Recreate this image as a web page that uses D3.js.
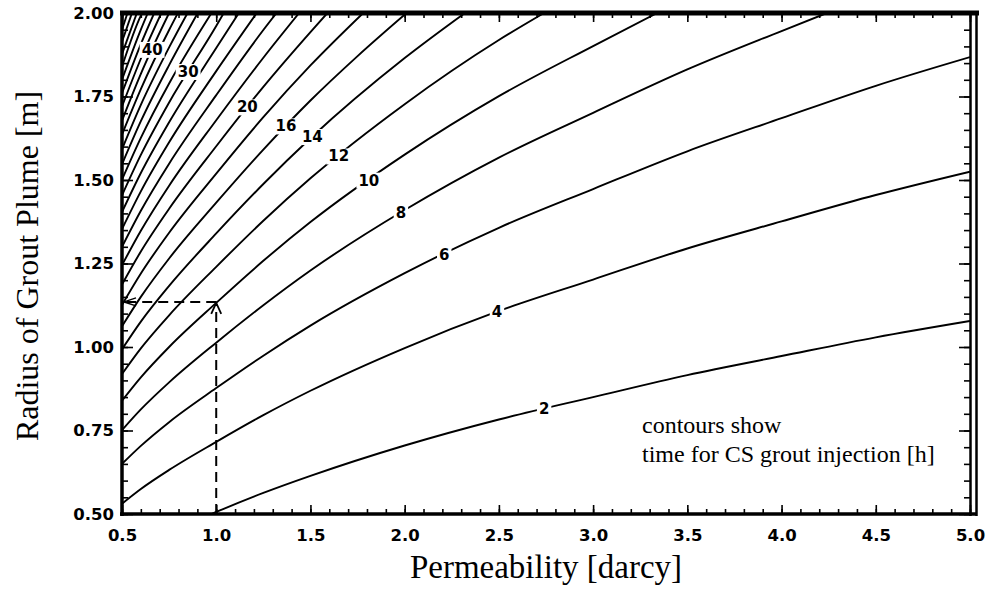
<!DOCTYPE html>
<html><head><meta charset="utf-8">
<script src="https://cdn.jsdelivr.net/npm/d3@7/dist/d3.min.js"></script>
<style>
body{margin:0;background:#fff;}
svg{display:block;}
.tick text{font-family:"DejaVu Sans",Arial,sans-serif;font-weight:bold;font-size:16.5px;fill:#000;}
</style></head>
<body><svg id="chart" width="989" height="592"></svg>
<script>
// ---- data ----
const xTicks = [0.5,1.0,1.5,2.0,2.5,3.0,3.5,4.0,4.5,5.0];
const yTicks = [0.50,0.75,1.00,1.25,1.50,1.75,2.00];
const contourLevels = [2,4,6,8,10,12,14,16,18,20,22,24,26,28,30,32,34,36,38,40,42,44,46,48,50,52,54,56];
// each contour: [permeability (darcy), radius (m)] points
const contourLines = [
 [[0.975,0.5],[1,0.506],[1.25,0.563],[1.5,0.614],[2,0.705],[2.5,0.783],[3,0.850],[3.5,0.916],[4,0.973],[4.5,1.029],[5,1.078]],
 [[0.5,0.531],[0.6,0.575],[0.75,0.632],[1,0.716],[1.25,0.796],[1.5,0.869],[2,0.997],[2.5,1.108],[3,1.202],[3.5,1.295],[4,1.376],[4.5,1.455],[5,1.525]],
 [[0.5,0.65],[0.6,0.704],[0.75,0.775],[1,0.877],[1.25,0.974],[1.5,1.064],[2,1.221],[2.5,1.357],[3,1.473],[3.5,1.586],[4,1.685],[4.5,1.782],[5,1.868]],
 [[0.5,0.751],[0.6,0.813],[0.75,0.894],[1,1.013],[1.25,1.125],[1.5,1.229],[2,1.41],[2.5,1.567],[3,1.701],[3.5,1.831],[4,1.946],[4.24,2.0]],
 [[0.5,0.839],[0.6,0.909],[0.75,1.0],[1,1.132],[1.25,1.258],[1.5,1.374],[2,1.576],[2.5,1.751],[3,1.901],[3.34,2.0]],
 [[0.5,0.919],[0.6,0.996],[0.75,1.095],[1,1.24],[1.25,1.378],[1.5,1.505],[2,1.727],[2.5,1.919],[2.74,2.0]],
 [[0.5,0.993],[0.6,1.076],[0.75,1.183],[1,1.34],[1.25,1.488],[1.5,1.625],[2,1.865],[2.32,2.0]],
 [[0.5,1.062],[0.6,1.15],[0.75,1.265],[1,1.432],[1.25,1.591],[1.5,1.738],[1.75,1.871],[2.01,2.0]],
 [[0.5,1.126],[0.6,1.22],[0.75,1.342],[1,1.519],[1.25,1.688],[1.5,1.843],[1.78,2.0]],
 [[0.5,1.187],[0.6,1.286],[0.75,1.414],[1,1.601],[1.25,1.779],[1.5,1.943],[1.59,2.0]],
 [[0.5,1.245],[0.6,1.348],[0.75,1.483],[1,1.679],[1.25,1.866],[1.44,2.0]],
 [[0.5,1.3],[0.6,1.408],[0.75,1.549],[1,1.754],[1.25,1.949],[1.32,2.0]],
 [[0.5,1.353],[0.6,1.466],[0.75,1.613],[1,1.826],[1.215,2.0]],
 [[0.5,1.404],[0.6,1.521],[0.75,1.673],[1,1.895],[1.12,2.0]],
 [[0.5,1.454],[0.6,1.575],[0.75,1.732],[1,1.961],[1.04,2.0]],
 [[0.5,1.501],[0.6,1.626],[0.75,1.789],[0.975,2.0]],
 [[0.5,1.547],[0.6,1.676],[0.75,1.844],[0.902,2.0]],
 [[0.5,1.592],[0.6,1.725],[0.75,1.897],[0.848,2.0]],
 [[0.5,1.636],[0.6,1.772],[0.75,1.949],[0.797,2.0]],
 [[0.5,1.678],[0.6,1.818],[0.75,2.0]],
 [[0.5,1.72],[0.6,1.863],[0.709,2.0]],
 [[0.5,1.76],[0.6,1.907],[0.671,2.0]],
 [[0.5,1.8],[0.6,1.95],[0.637,2.0]],
 [[0.5,1.839],[0.6,1.992],[0.607,2.0]],
 [[0.5,1.877],[0.579,2.0]],
 [[0.5,1.914],[0.553,2.0]],
 [[0.5,1.95],[0.529,2.0]],
 [[0.5,1.986],[0.507,2.0]]
];
const labelLevels = [2,4,6,8,10,12,14,16,20,30,40];
const labelK = [2.74,2.49,2.21,1.98,1.81,1.65,1.51,1.37,1.165,0.851,0.66];
const guidePoint = [1.0, 1.135];
const noteLines = ["contours show","time for CS grout injection [h]"];

// ---- drawing ----
const svg = d3.select("#chart");
const x = d3.scaleLinear().domain([0.5,5]).range([122,970]);
const y = d3.scaleLinear().domain([0.5,2]).range([514,13]);

svg.append("defs").append("clipPath").attr("id","clip")
  .append("rect").attr("x",122).attr("y",13).attr("width",848).attr("height",501);

const line = d3.line().x(d=>x(d[0])).y(d=>y(d[1])).curve(d3.curveMonotoneX);
const gC = svg.append("g").attr("clip-path","url(#clip)");
gC.selectAll("path.c").data(contourLines).join("path")
  .attr("class","c").attr("d",line)
  .attr("fill","none").attr("stroke","#000").attr("stroke-width",1.9);

// contour labels
function rAt(pts,k){
  for(let i=0;i<pts.length-1;i++){
    if(k>=pts[i][0] && k<=pts[i+1][0]){
      const t=(k-pts[i][0])/(pts[i+1][0]-pts[i][0]);
      return pts[i][1]+t*(pts[i+1][1]-pts[i][1]);
    }
  }
  return pts[pts.length-1][1];
}
const gL = svg.append("g");
labelLevels.forEach((lv,i)=>{
  const pts = contourLines[contourLevels.indexOf(lv)];
  const k = labelK[i], r = rAt(pts,k);
  const g = gL.append("g").attr("transform",`translate(${x(k)},${y(r)})`);
  const rect = g.append("rect").attr("fill","#fff");
  const t = g.append("text").text(lv).attr("text-anchor","middle").attr("dy","0.36em")
    .attr("font-family","DejaVu Sans, Arial, sans-serif").attr("font-weight","bold").attr("font-size",15);
  const bb = t.node().getBBox();
  rect.attr("x",bb.x-2).attr("y",bb.y+1).attr("width",bb.width+4).attr("height",bb.height-2);
});

// dashed guide
const gx = x(guidePoint[0]), gy = y(guidePoint[1]);
svg.append("path").attr("d",`M${gx},${y(0.5)}V${gy+2}M${gx},${gy}H${x(0.5)+3}`)
  .attr("fill","none").attr("stroke","#000").attr("stroke-width",2).attr("stroke-dasharray","10,6");
svg.append("path").attr("d",`M${gx-5},${gy+12}L${gx},${gy+1}L${gx+5},${gy+12}`)
  .attr("fill","none").attr("stroke","#000").attr("stroke-width",1.8);
svg.append("path").attr("d",`M${x(0.5)+14},${gy-4}L${x(0.5)+2},${gy}L${x(0.5)+14},${gy+4}`)
  .attr("fill","none").attr("stroke","#000").attr("stroke-width",1.5);

// axes
const minorX = d3.range(5,51).map(d=>d/10);
const minorY = d3.range(10,41).map(d=>d/20);
function axisG(axis, tr){ return svg.append("g").attr("transform",tr).call(axis); }
axisG(d3.axisBottom(x).tickValues(xTicks).tickFormat(d3.format(".1f")).tickSizeInner(-9).tickSizeOuter(0).tickPadding(15),`translate(0,514)`);
axisG(d3.axisBottom(x).tickValues(minorX).tickFormat("").tickSizeInner(-5).tickSizeOuter(0),`translate(0,514)`);
axisG(d3.axisTop(x).tickValues(xTicks).tickFormat("").tickSizeInner(-9).tickSizeOuter(0),`translate(0,13)`);
axisG(d3.axisTop(x).tickValues(minorX).tickFormat("").tickSizeInner(-5).tickSizeOuter(0),`translate(0,13)`);
axisG(d3.axisLeft(y).tickValues(yTicks).tickFormat(d3.format(".2f")).tickSizeInner(-11).tickSizeOuter(0).tickPadding(8),`translate(122,0)`);
axisG(d3.axisLeft(y).tickValues(minorY).tickFormat("").tickSizeInner(-6).tickSizeOuter(0),`translate(122,0)`);
axisG(d3.axisRight(y).tickValues(yTicks).tickFormat("").tickSizeInner(-11).tickSizeOuter(0),`translate(970,0)`);
axisG(d3.axisRight(y).tickValues(minorY).tickFormat("").tickSizeInner(-6).tickSizeOuter(0),`translate(970,0)`);
svg.selectAll(".domain").remove();
svg.selectAll(".tick line").attr("stroke","#000").attr("stroke-width",1.6);

// frame
svg.append("line").attr("x1",122).attr("x2",122).attr("y1",11).attr("y2",516).attr("stroke","#000").attr("stroke-width",3.5);
svg.append("line").attr("x1",120).attr("x2",977).attr("y1",514).attr("y2",514).attr("stroke","#000").attr("stroke-width",3.5);
svg.append("line").attr("x1",120).attr("x2",979).attr("y1",13).attr("y2",13).attr("stroke","#000").attr("stroke-width",5);
svg.append("line").attr("x1",970.5).attr("x2",970.5).attr("y1",11).attr("y2",516).attr("stroke","#000").attr("stroke-width",2.5);
svg.append("line").attr("x1",976.5).attr("x2",976.5).attr("y1",11).attr("y2",516).attr("stroke","#000").attr("stroke-width",2.5);

// titles
svg.append("text").attr("x",546).attr("y",578).attr("text-anchor","middle")
  .attr("font-family","Liberation Serif, Times New Roman, serif").attr("font-size",33).text("Permeability [darcy]");
svg.append("text").attr("transform","translate(38,266) rotate(-90)").attr("text-anchor","middle")
  .attr("font-family","Liberation Serif, Times New Roman, serif").attr("font-size",32).text("Radius of Grout Plume [m]");
noteLines.forEach((s,i)=>{
  svg.append("text").attr("x",642).attr("y",433+i*29)
    .attr("font-family","Liberation Serif, Times New Roman, serif").attr("font-size",24).text(s);
});
</script></body></html>
